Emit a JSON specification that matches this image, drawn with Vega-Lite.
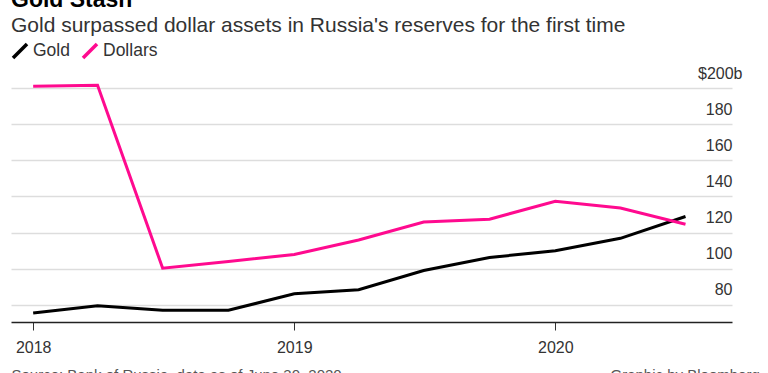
{
  "$schema": "https://vega.github.io/schema/vega-lite/v6.json",
  "width": 721,
  "height": 234,
  "autosize": "none",
  "padding": {"left": 11, "top": 88, "right": 36, "bottom": 51},
  "background": "white",
  "config": {"font": "Liberation Sans", "view": {"stroke": null}},
  "title": {
    "text": "Gold Stash",
    "subtitle": "Gold surpassed dollar assets in Russia's reserves for the first time",
    "anchor": "start",
    "frame": "group",
    "fontSize": 23,
    "fontWeight": "bold",
    "color": "#000000",
    "subtitleFontSize": 21,
    "subtitleColor": "#333333",
    "subtitlePadding": 3,
    "offset": 6
  },
  "data": {
    "values": [
      {"date": "2018-01-01", "series": "Gold", "value": 75.5},
      {"date": "2018-04-01", "series": "Gold", "value": 79.5},
      {"date": "2018-07-01", "series": "Gold", "value": 77.0},
      {"date": "2018-10-01", "series": "Gold", "value": 77.0},
      {"date": "2019-01-01", "series": "Gold", "value": 86.1},
      {"date": "2019-04-01", "series": "Gold", "value": 88.4},
      {"date": "2019-07-01", "series": "Gold", "value": 99.0},
      {"date": "2019-10-01", "series": "Gold", "value": 106.2},
      {"date": "2020-01-01", "series": "Gold", "value": 109.9},
      {"date": "2020-04-01", "series": "Gold", "value": 116.8},
      {"date": "2020-07-01", "series": "Gold", "value": 128.9},
      {"date": "2018-01-01", "series": "Dollars", "value": 201.0},
      {"date": "2018-04-01", "series": "Dollars", "value": 201.5},
      {"date": "2018-07-01", "series": "Dollars", "value": 100.3},
      {"date": "2018-10-01", "series": "Dollars", "value": 104.0},
      {"date": "2019-01-01", "series": "Dollars", "value": 107.9},
      {"date": "2019-04-01", "series": "Dollars", "value": 115.9},
      {"date": "2019-07-01", "series": "Dollars", "value": 125.8},
      {"date": "2019-10-01", "series": "Dollars", "value": 127.4},
      {"date": "2020-01-01", "series": "Dollars", "value": 137.3},
      {"date": "2020-04-01", "series": "Dollars", "value": 133.6},
      {"date": "2020-07-01", "series": "Dollars", "value": 124.6}
    ]
  },
  "mark": {"type": "line", "strokeWidth": 3, "clip": false},
  "encoding": {
    "x": {
      "field": "date",
      "type": "temporal",
      "scale": {
        "type": "utc",
        "domain": [
          {"year": 2017, "month": 12, "date": 1, "utc": true},
          {"year": 2020, "month": 9, "date": 4, "utc": true}
        ]
      },
      "axis": {
        "values": [
          {"year": 2018, "month": 1, "date": 1, "utc": true},
          {"year": 2019, "month": 1, "date": 1, "utc": true},
          {"year": 2020, "month": 1, "date": 1, "utc": true}
        ],
        "format": "%Y",
        "formatType": "utc",
        "grid": false,
        "tickSize": 8,
        "tickColor": "#333333",
        "tickWidth": 1,
        "domainColor": "#222222",
        "domainWidth": 1.5,
        "labelFontSize": 16,
        "labelColor": "#333333",
        "labelPadding": 9,
        "labelFlush": false,
        "title": "Source: Bank of Russia, data as of June 30, 2020",
        "titleAnchor": "start",
        "titleAlign": "left",
        "titleX": 0,
        "titleY": 57,
        "titleBaseline": "alphabetic",
        "titleFontSize": 15,
        "titleFontWeight": "normal",
        "titleColor": "#555555"
      }
    },
    "y": {
      "field": "value",
      "type": "quantitative",
      "scale": {"domain": [70.5, 200], "nice": false, "zero": false},
      "axis": {
        "orient": "right",
        "values": [80, 100, 120, 140, 160, 180, 200],
        "grid": true,
        "gridColor": "#dddddd",
        "gridWidth": 1.3,
        "domain": false,
        "ticks": false,
        "labelAlign": "right",
        "labelBaseline": "alphabetic",
        "labelOffset": -10,
        "labelPadding": {"condition": {"test": "datum.value == 200", "value": 10}, "value": 0},
        "labelExpr": "datum.value == 200 ? '$200b' : datum.label",
        "labelFontSize": 16,
        "labelColor": "#333333",
        "title": "Graphic by Bloomberg",
        "titleAngle": 0,
        "titleX": -122,
        "titleY": 291,
        "titleAlign": "left",
        "titleBaseline": "alphabetic",
        "titleFontSize": 15,
        "titleFontWeight": "normal",
        "titleColor": "#555555"
      }
    },
    "color": {
      "field": "series",
      "type": "nominal",
      "scale": {"domain": ["Gold", "Dollars"], "range": ["#000000", "#ff0a8f"]},
      "legend": {
        "orient": "top",
        "direction": "horizontal",
        "title": null,
        "symbolType": "M-1,1L1,-1",
        "symbolSize": 196,
        "symbolStrokeWidth": 3.5,
        "labelFontSize": 17.5,
        "labelColor": "#333333",
        "labelOffset": 4,
        "columnPadding": 6,
        "offset": 14,
        "padding": 0
      }
    }
  }
}
